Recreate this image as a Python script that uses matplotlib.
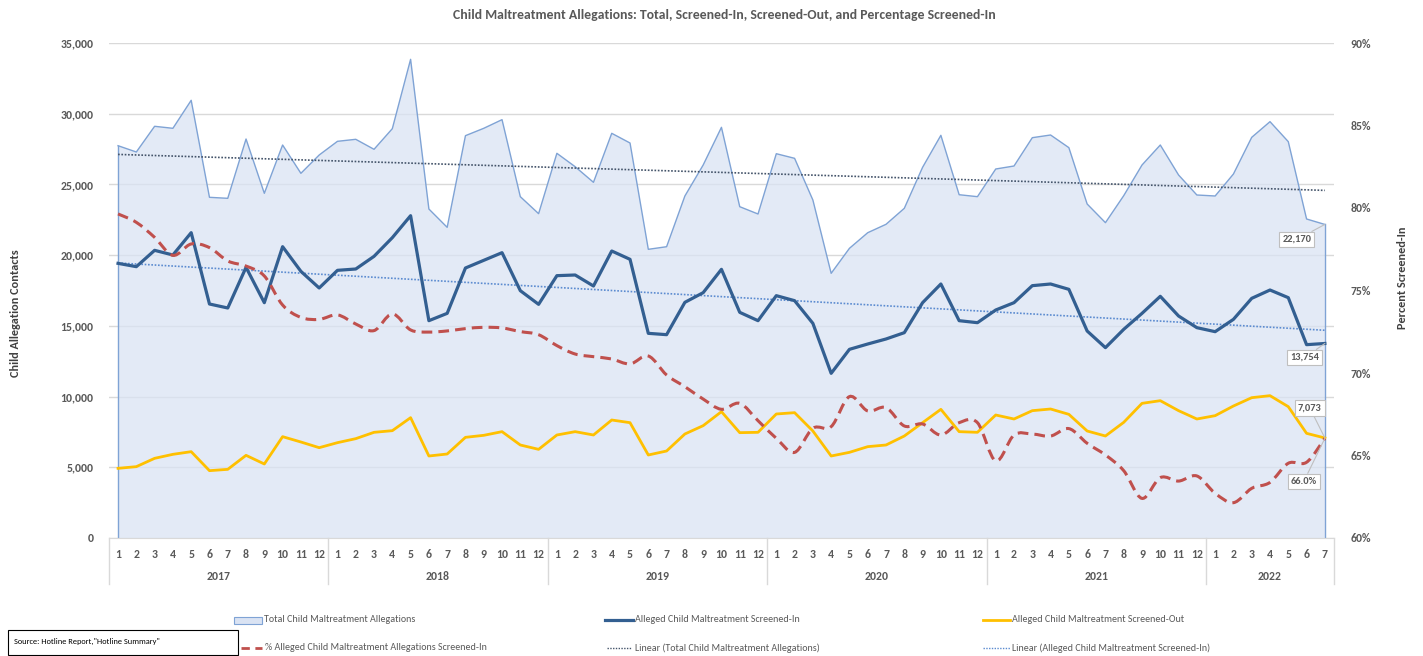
import numpy as np
import matplotlib
matplotlib.use("Agg")
import matplotlib.pyplot as plt
from matplotlib.path import Path
from matplotlib.patches import PathPatch, Rectangle
from matplotlib.lines import Line2D
import matplotlib.transforms as mtransforms

plt.rcParams['font.family'] = ['Carlito', 'Lato', 'DejaVu Sans']

years = ['2017', '2018', '2019', '2020', '2021', '2022']
months_per_year = [12, 12, 12, 12, 12, 7]

total = [27738, 27293, 29110, 28968, 30948, 24089, 24018, 28212, 24372, 27788, 25786, 27080,
         28048, 28190, 27483, 28942, 33846, 23262, 21966, 28448, 28968, 29580, 24134, 22933,
         27200, 26253, 25149, 28614, 27929, 20412, 20596, 24182, 26373, 29038, 23426, 22909,
         27172, 26846, 23899, 18715, 20483, 21587, 22180, 23311, 26210, 28472, 24273, 24134,
         26091, 26303, 28305, 28495, 27600, 23616, 22296, 24206, 26373, 27788, 25667, 24253,
         24182, 25737, 28330, 29438, 28024, 22556, 22170]

screened_in = [19420, 19185, 20340, 20010, 21590, 16545, 16263, 19138, 16639, 20599, 18855, 17677,
               18926, 19020, 19916, 21236, 22791, 15366, 15884, 19091, 19633, 20175, 17488, 16522,
               18549, 18596, 17818, 20293, 19704, 14471, 14377, 16663, 17347, 18997, 15956, 15366,
               17135, 16781, 15177, 11643, 13340, 13717, 14071, 14518, 16639, 17960, 15366, 15224,
               16121, 16639, 17842, 17960, 17582, 14636, 13458, 14754, 15884, 17088, 15697, 14872,
               14589, 15460, 16946, 17535, 16993, 13670, 13754]

screened_out = [4926, 5044, 5633, 5916, 6104, 4761, 4855, 5845, 5233, 7165, 6788, 6387,
                6741, 7024, 7472, 7589, 8508, 5798, 5939, 7118, 7260, 7519, 6576, 6269,
                7283, 7519, 7283, 8343, 8154, 5869, 6152, 7354, 7943, 8933, 7448, 7472,
                8768, 8862, 7566, 5798, 6057, 6458, 6576, 7212, 8154, 9098, 7519, 7472,
                8697, 8414, 9003, 9121, 8744, 7566, 7212, 8178, 9521, 9710, 9003, 8414,
                8650, 9333, 9922, 10064, 9286, 7400, 7073]

pct_in = [79.64, 79.13, 78.22, 77.13, 77.82, 77.60, 76.79, 76.48, 75.88, 74.12, 73.37, 73.25,
          73.52, 72.97, 72.57, 73.58, 72.61, 72.48, 72.55, 72.69, 72.77, 72.73, 72.51, 72.32,
          71.66, 71.15, 70.99, 70.85, 70.55, 71.03, 69.88, 69.17, 68.42, 67.80, 68.16, 67.11,
          66.04, 65.19, 66.65, 66.75, 68.57, 67.70, 67.90, 66.79, 66.91, 66.24, 66.99, 66.99,
          64.67, 66.24, 66.30, 66.18, 66.63, 65.74, 65.03, 64.08, 62.40, 63.66, 63.45, 63.76,
          62.71, 62.14, 63.01, 63.37, 64.53, 64.59, 66.04]

month_labels = [str(m + 1) for n in months_per_year for m in range(n)]

W, H = 1423, 656
fig = plt.figure(figsize=(W / 100, H / 100), dpi=100)
L, R, T, B = 108.9, 1334, 43, 538
ax = fig.add_axes([L / W, 1 - B / H, (R - L) / W, (B - T) / H])
ax2 = ax.twinx()

x = np.arange(len(total))
grey_txt = '#595959'
tick_fs = 8.5

# grid
ax.set_ylim(0, 35000)
ax.set_xlim(-0.5, len(total) - 0.5)
ax.set_yticks(np.arange(0, 35001, 5000))
ax.set_yticklabels([f'{v:,}' for v in range(0, 35001, 5000)])
ax.grid(axis='y', color='#D9D9D9', lw=1, zorder=0)
ax.set_axisbelow(True)
for s in ['top', 'left', 'right']:
    ax.spines[s].set_visible(False)
    ax2.spines[s].set_visible(False)
ax.spines['bottom'].set_color('#D9D9D9')
ax2.spines['bottom'].set_visible(False)
ax.tick_params(axis='y', length=0, pad=11, labelsize=tick_fs, labelcolor=grey_txt)
for lab in ax.get_yticklabels():
    lab.set_fontweight('bold')
ax.set_xticks(x)
ax.set_xticklabels(month_labels, fontsize=tick_fs, fontweight='bold', color=grey_txt)
ax.tick_params(axis='x', length=0, pad=8)

# area
ax.fill_between(x, total, 0, facecolor='#DAE3F3', alpha=0.75, edgecolor='none', zorder=1)
ax.plot(x, total, color='#7FA3D5', lw=1.0, zorder=2)
ax.plot([x[0], x[0]], [0, total[0]], color='#7FA3D5', lw=1.0, zorder=2)
ax.plot([x[-1], x[-1]], [0, total[-1]], color='#7FA3D5', lw=1.0, zorder=2)

# trendlines
ct = np.polyfit(x, total, 1)
ci = np.polyfit(x, screened_in, 1)
ax.plot(x, np.polyval(ct, x), color='#44546A', lw=1.2, ls=(0, (1, 1)), zorder=3)
ax.plot(x, np.polyval(ci, x), color='#5B8BD0', lw=1.2, ls=(0, (1, 1)), zorder=3)

ax.plot(x, screened_in, color='#335F91', lw=2.3, zorder=4)
ax.plot(x, screened_out, color='#FFC000', lw=2.0, zorder=4)

# smoothed percent line on secondary axis
ax2.set_ylim(60, 90)
ax2.set_yticks(np.arange(60, 91, 5))
ax2.set_yticklabels([f'{v}%' for v in range(60, 91, 5)])
ax2.tick_params(axis='y', length=0, pad=12, labelsize=tick_fs, labelcolor=grey_txt)
for lab in ax2.get_yticklabels():
    lab.set_fontweight('bold')

px = np.array(x, dtype=float)
py = np.array(pct_in, dtype=float)
verts = [(px[0], py[0])]
codes = [Path.MOVETO]
t = 1 / 6
for i in range(len(px) - 1):
    p0 = (px[max(i - 1, 0)], py[max(i - 1, 0)])
    p1 = (px[i], py[i])
    p2 = (px[i + 1], py[i + 1])
    p3 = (px[min(i + 2, len(px) - 1)], py[min(i + 2, len(px) - 1)])
    c1 = (p1[0] + (p2[0] - p0[0]) * t, p1[1] + (p2[1] - p0[1]) * t)
    c2 = (p2[0] - (p3[0] - p1[0]) * t, p2[1] - (p3[1] - p1[1]) * t)
    verts += [c1, c2, p2]
    codes += [Path.CURVE4] * 3
ax2.add_patch(PathPatch(Path(verts, codes), facecolor='none', edgecolor='#C0504D',
                        lw=2.2, ls=(0, (3.5, 2)), zorder=5))
ax2.set_zorder(ax.get_zorder() + 1)
ax2.patch.set_visible(False)

# data labels
box = dict(boxstyle='square,pad=0.3', fc='white', ec='#BFBFBF', lw=0.8)
arrow = dict(arrowstyle='-', color='#BFBFBF', lw=0.8, shrinkA=0, shrinkB=0)
kw = dict(textcoords='offset pixels', ha='center', va='center', fontsize=7.5,
          color=grey_txt, fontweight='bold', bbox=box, arrowprops=arrow, zorder=10)
ax.annotate(f'{total[-1]:,}', (x[-1], total[-1]), xytext=(-28, -15), **kw)
ax.annotate(f'{screened_in[-1]:,}', (x[-1], screened_in[-1]), xytext=(-20, -14), **kw)
ax.annotate(f'{screened_out[-1]:,}', (x[-1], screened_out[-1]), xytext=(-15, 30), **kw)
ax2.annotate(f'{pct_in[-1]:.1f}%', (x[-1], pct_in[-1]), xytext=(-21, -43), **kw)

# category groups
trans = mtransforms.blended_transform_factory(ax.transData, ax.transAxes)
bounds = np.cumsum([0] + months_per_year) - 0.5
bot = -(584 - 538) / (B - T)
for b in bounds:
    ax.plot([b, b], [0, bot], transform=trans, color='#D9D9D9', lw=1, clip_on=False)
for i, yr in enumerate(years):
    ax.text((bounds[i] + bounds[i + 1]) / 2, -(577 - 538) / (B - T), yr, transform=trans,
            ha='center', va='center', fontsize=tick_fs, fontweight='bold', color=grey_txt)

# titles and axis labels
fig.text(724 / W, 1 - 15 / H, 'Child Maltreatment Allegations: Total, Screened-In, Screened-Out, and Percentage Screened-In',
         ha='center', va='center', fontsize=9.9, fontweight='bold', color=grey_txt)
fig.text(16 / W, 1 - 313 / H, 'Child Allegation Contacts', rotation=90, ha='center', va='center',
         fontsize=8.8, fontweight='bold', color='#404040')
fig.text(1403 / W, 1 - 278 / H, 'Percent Screened-In', rotation=90, ha='center', va='center',
         fontsize=8.8, fontweight='bold', color='#404040')

# legend (manual)
def fx(p):
    return p / W

def fy(p):
    return 1 - p / H

leg_txt = dict(ha='left', va='center', fontsize=7.2, color=grey_txt)
fig.patches.append(Rectangle((fx(234), fy(624)), fx(28), 7 / H, transform=fig.transFigure,
                             fc='#DAE3F3', ec='#7FA3D5', lw=0.8))
fig.text(fx(264), fy(620), 'Total Child Maltreatment Allegations', **leg_txt)
fig.lines.append(Line2D([fx(605), fx(633)], [fy(620)] * 2, transform=fig.transFigure, color='#335F91', lw=2.3))
fig.text(fx(635), fy(620), 'Alleged Child Maltreatment Screened-In', **leg_txt)
fig.lines.append(Line2D([fx(983), fx(1010)], [fy(620)] * 2, transform=fig.transFigure, color='#FFC000', lw=2.0))
fig.text(fx(1012), fy(620), 'Alleged Child Maltreatment Screened-Out', **leg_txt)
fig.lines.append(Line2D([fx(241), fx(262)], [fy(648)] * 2, transform=fig.transFigure, color='#C0504D', lw=2.0, ls=(0, (3, 2))))
fig.text(fx(265), fy(648), '% Alleged Child Maltreatment Allegations Screened-In', **leg_txt)
fig.lines.append(Line2D([fx(607), fx(632)], [fy(648)] * 2, transform=fig.transFigure, color='#44546A', lw=1.0, ls=(0, (1, 1))))
fig.text(fx(635), fy(648), 'Linear (Total Child Maltreatment Allegations)', **leg_txt)
fig.lines.append(Line2D([fx(983), fx(1010)], [fy(648)] * 2, transform=fig.transFigure, color='#5B8BD0', lw=1.0, ls=(0, (1, 1))))
fig.text(fx(1012), fy(648), 'Linear (Alleged Child Maltreatment Screened-In)', **leg_txt)

# source box
fig.patches.append(Rectangle((fx(8), fy(655)), fx(230), 25 / H, transform=fig.transFigure,
                             fc='white', ec='black', lw=0.8))
fig.text(fx(14), fy(641), 'Source: Hotline Report,"Hotline Summary"', ha='left', va='center',
         fontsize=6, color='black')

fig.savefig('out.png', dpi=100)
